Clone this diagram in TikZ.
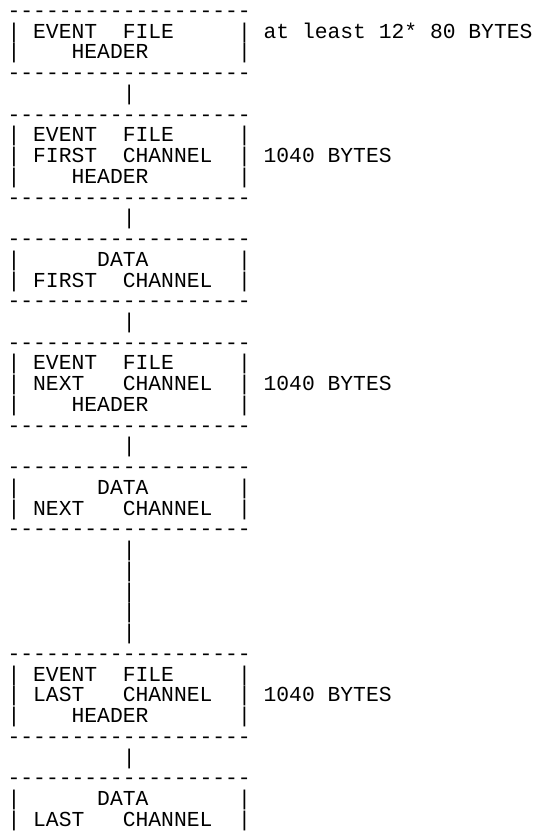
\documentclass[tikz,border=0pt]{standalone}
\usepackage{fontspec}
\newfontfamily\monofont{Liberation Mono}
\newcommand\dashrow{\mbox{-}\mbox{-}\mbox{-}\mbox{-}\mbox{-}\mbox{-}\mbox{-}\mbox{-}\mbox{-}\mbox{-}\mbox{-}\mbox{-}\mbox{-}\mbox{-}\mbox{-}\mbox{-}\mbox{-}\mbox{-}\mbox{-}}
\tikzset{mono/.style={anchor=base west, inner sep=0pt, outer sep=0pt, font=\monofont\fontsize{16pt}{16pt}\selectfont}}
% name, row, column, text
\newcommand\asc[4]{\node[mono] (#1) at ({5.7pt+#3*9.6pt},{-28.6pt-(#2-2)*15.555pt}) {#4};}
\newcommand\dashes[1]{\asc{d#1}{#1}{0}{\dashrow}}
\newcommand\link[1]{\asc{p#1}{#1}{9}{|}}
\newcommand\sides[1]{\asc{l#1}{#1}{0}{|}\asc{r#1}{#1}{18}{|}}
\begin{document}
\begin{tikzpicture}
\fill[white] (0,0) rectangle (401.25pt,-627pt);
\useasboundingbox (0,0) rectangle (401.25pt,-627pt);
% header block
\dashes{1}
\sides{2}\asc{t2a}{2}{2}{EVENT}\asc{t2b}{2}{9}{FILE}\asc{n2}{2}{20}{at least 12* 80 BYTES}
\sides{3}\asc{t3}{3}{5}{HEADER}
\dashes{4}
\link{5}
% first channel header
\dashes{6}
\sides{7}\asc{t7a}{7}{2}{EVENT}\asc{t7b}{7}{9}{FILE}
\sides{8}\asc{t8a}{8}{2}{FIRST}\asc{t8b}{8}{9}{CHANNEL}\asc{n8}{8}{20}{1040 BYTES}
\sides{9}\asc{t9}{9}{5}{HEADER}
\dashes{10}
\link{11}
% first channel data
\dashes{12}
\sides{13}\asc{t13}{13}{7}{DATA}
\sides{14}\asc{t14a}{14}{2}{FIRST}\asc{t14b}{14}{9}{CHANNEL}
\dashes{15}
\link{16}
% next channel header
\dashes{17}
\sides{18}\asc{t18a}{18}{2}{EVENT}\asc{t18b}{18}{9}{FILE}
\sides{19}\asc{t19a}{19}{2}{NEXT}\asc{t19b}{19}{9}{CHANNEL}\asc{n19}{19}{20}{1040 BYTES}
\sides{20}\asc{t20}{20}{5}{HEADER}
\dashes{21}
\link{22}
% next channel data
\dashes{23}
\sides{24}\asc{t24}{24}{7}{DATA}
\sides{25}\asc{t25a}{25}{2}{NEXT}\asc{t25b}{25}{9}{CHANNEL}
\dashes{26}
\link{27}\link{28}\link{29}\link{30}\link{31}
% last channel header
\dashes{32}
\sides{33}\asc{t33a}{33}{2}{EVENT}\asc{t33b}{33}{9}{FILE}
\sides{34}\asc{t34a}{34}{2}{LAST}\asc{t34b}{34}{9}{CHANNEL}\asc{n34}{34}{20}{1040 BYTES}
\sides{35}\asc{t35}{35}{5}{HEADER}
\dashes{36}
\link{37}
% last channel data
\dashes{38}
\sides{39}\asc{t39}{39}{7}{DATA}
\sides{40}\asc{t40a}{40}{2}{LAST}\asc{t40b}{40}{9}{CHANNEL}
\end{tikzpicture}
\end{document}
